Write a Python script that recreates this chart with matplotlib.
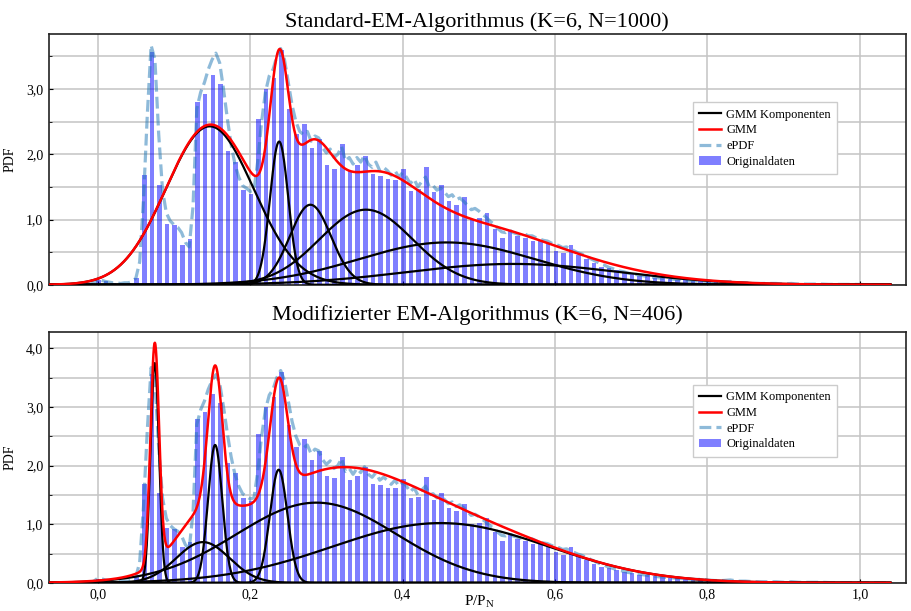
import numpy as np
import matplotlib
matplotlib.use("Agg")
import matplotlib.pyplot as plt
from matplotlib.ticker import MultipleLocator, FuncFormatter

plt.rcParams['font.family'] = ['Liberation Serif', 'DejaVu Serif']
plt.rcParams['mathtext.fontset'] = 'custom'
plt.rcParams['mathtext.rm'] = 'Liberation Serif'
plt.rcParams['mathtext.it'] = 'Liberation Serif:italic'

# Histogramm der Originaldaten (Bins der Breite 0.01, erstes Bin beginnt bei -0.014)
hist_start = -0.014
hist_width = 0.01
hist_pdf = [
    0.03, 0.07, 0.05, 0.03, 0.02, 0.03, 0.10, 1.68, 3.56, 1.53,
    0.93, 0.92, 0.61, 0.70, 2.80, 2.92, 3.22, 3.07, 2.05, 1.88,
    1.45, 1.39, 2.54, 3.00, 3.17, 3.60, 2.69, 2.31, 2.46, 2.10,
    2.24, 1.83, 1.78, 2.15, 1.75, 1.83, 1.98, 1.69, 1.66, 1.62,
    1.61, 1.77, 1.44, 1.47, 1.81, 1.42, 1.53, 1.28, 1.22, 1.35,
    1.01, 1.02, 1.10, 0.86, 0.72, 0.83, 0.75, 0.72, 0.67, 0.67,
    0.62, 0.52, 0.48, 0.61, 0.46, 0.39, 0.33, 0.27, 0.26, 0.22,
    0.18, 0.17, 0.14, 0.13, 0.11, 0.10, 0.09, 0.08, 0.07, 0.06,
    0.05, 0.05, 0.04, 0.03, 0.05, 0.03, 0.02, 0.02, 0.02, 0.01,
    0.02, 0.01, 0.01, 0.01, 0.005, 0.005, 0.005, 0.0, 0.005, 0.0,
    0.0, 0.0, 0.0, 0.0, 0.0, 0.0,
]

# empirische PDF
epdf_x = np.r_[np.arange(-0.015, 0.6975, 0.005), np.arange(0.70, 1.0405, 0.01)]
epdf_y = [
    0.00, 0.01, 0.03, 0.08, 0.07, 0.05, 0.04, 0.03, 0.03, 0.02,
    0.03, 0.03, 0.05, 0.10, 0.35, 1.30, 2.60, 3.67, 3.45, 2.30,
    1.45, 1.10, 0.98, 0.92, 0.88, 0.80, 0.65, 0.58, 1.20, 2.70,
    2.95, 3.10, 3.30, 3.45, 3.55, 3.40, 3.00, 2.55, 2.15, 1.85,
    1.65, 1.52, 1.48, 1.43, 1.45, 1.90, 2.50, 2.95, 3.20, 3.30,
    3.50, 3.62, 3.45, 3.10, 2.75, 2.50, 2.35, 2.30, 2.35, 2.20,
    2.28, 2.25, 2.10, 2.02, 2.08, 1.95, 2.00, 2.12, 1.90, 1.95,
    1.85, 1.95, 1.88, 1.98, 1.85, 1.80, 1.88, 1.75, 1.80, 1.75,
    1.68, 1.75, 1.65, 1.72, 1.65, 1.55, 1.62, 1.50, 1.58, 1.65,
    1.50, 1.52, 1.45, 1.48, 1.42, 1.35, 1.38, 1.30, 1.33, 1.28,
    1.22, 1.15, 1.17, 1.13, 1.08, 1.03, 0.97, 0.93, 0.86, 0.81,
    0.80, 0.84, 0.80, 0.78, 0.76, 0.78, 0.75, 0.75, 0.72, 0.70,
    0.68, 0.67, 0.64, 0.62, 0.60, 0.57, 0.58, 0.55, 0.52, 0.49,
    0.47, 0.44, 0.41, 0.38, 0.35, 0.32, 0.30, 0.27, 0.25, 0.23,
    0.21, 0.20, 0.18,
    0.17, 0.15, 0.13, 0.11, 0.10, 0.09, 0.08, 0.07, 0.06, 0.06,
    0.05, 0.04, 0.04, 0.05, 0.03, 0.03, 0.02, 0.02, 0.02, 0.02,
    0.01, 0.02, 0.01, 0.01, 0.01, 0.01, 0.005, 0.005, 0.005, 0.005,
    0.005, 0.0, 0.0, 0.0, 0.0,
]

# GMM-Parameter Standard-EM
std_weights = [0.350, 0.066, 0.083, 0.176, 0.187, 0.112]
std_means = [0.147, 0.238, 0.279, 0.352, 0.458, 0.545]
std_sigmas = [0.0575, 0.012, 0.027, 0.061, 0.115, 0.140]

# GMM-Parameter modifizierter EM
mod_weights = [0.0526, 0.0610, 0.0548, 0.0556, 0.360, 0.363]
mod_means = [0.0748, 0.138, 0.154, 0.2374, 0.287, 0.450]
mod_sigmas = [0.0056, 0.035, 0.0093, 0.0115, 0.105, 0.142]

titles = ["Standard-EM-Algorithmus (K=6, N=1000)",
          "Modifizierter EM-Algorithmus (K=6, N=406)"]

x = np.linspace(-0.063, 1.04, 3000)
centers = hist_start + hist_width * (np.arange(len(hist_pdf)) + 0.5)


def components(weights, means, sigmas):
    out = []
    for w, m, s in zip(weights, means, sigmas):
        out.append(w / (s * np.sqrt(2 * np.pi)) * np.exp(-0.5 * ((x - m) / s) ** 2))
    return out


fig, axes = plt.subplots(2, 1, figsize=(9.12, 6.11), dpi=100)
fig.subplots_adjust(left=0.0537, right=0.993, top=0.944, bottom=0.046, hspace=0.19)

params = [(std_weights, std_means, std_sigmas), (mod_weights, mod_means, mod_sigmas)]
ylims = [3.84, 4.27]
legend_pos = [(0.7515, 0.728), (0.7515, 0.79)]
title_pads = [5, 9]

for i, ax in enumerate(axes):
    comps = components(*params[i])
    ax.bar(centers, hist_pdf, width=0.006, color='blue', alpha=0.5,
           label='Originaldaten', zorder=2)
    ax.plot(epdf_x, epdf_y, color='C0', alpha=0.5, ls='--', lw=2.3,
            label='ePDF', zorder=3)
    for j, c in enumerate(comps):
        ax.plot(x, c, color='black', lw=1.6, zorder=4,
                label='GMM Komponenten' if j == 0 else None)
    ax.plot(x, np.sum(comps, axis=0), color='red', lw=1.8, label='GMM', zorder=5)

    ax.set_xlim(-0.064, 1.06)
    ax.set_ylim(0, ylims[i])
    ax.xaxis.set_major_locator(MultipleLocator(0.2))
    ax.yaxis.set_major_locator(MultipleLocator(1.0))
    ax.yaxis.set_minor_locator(MultipleLocator(0.5))
    fmt = FuncFormatter(lambda v, p: f'{v:.1f}'.replace('.', ','))
    ax.xaxis.set_major_formatter(fmt)
    ax.yaxis.set_major_formatter(fmt)
    ax.grid(True, which='both', color='#c4c4c4', lw=1.1, zorder=0)
    ax.set_axisbelow(True)
    ax.tick_params(labelsize=10, length=3, direction='in', pad=4)
    ax.tick_params(which='minor', length=2, direction='in')
    for sp in ax.spines.values():
        sp.set_color('#222222')
        sp.set_linewidth(1.2)
    ax.set_ylabel('PDF', fontsize=10, labelpad=7)
    ax.set_title(titles[i], fontsize=16, pad=title_pads[i])

    h, l = ax.get_legend_handles_labels()
    order = [l.index(n) for n in ['GMM Komponenten', 'GMM', 'ePDF', 'Originaldaten']]
    ax.legend([h[k] for k in order], [l[k] for k in order], loc='upper left',
              bbox_to_anchor=legend_pos[i], borderaxespad=0, fontsize=9,
              fancybox=False, framealpha=1, edgecolor='#cccccc',
              handlelength=1.8, handletextpad=0.4, borderpad=0.5,
              labelspacing=0.3)

axes[0].tick_params(labelbottom=False)
axes[1].set_xlabel(r'P/P$_\mathrm{N}$', fontsize=11, va='center')
axes[1].xaxis.set_label_coords(0.503, -0.078)

fig.savefig('out.png', dpi=100)
